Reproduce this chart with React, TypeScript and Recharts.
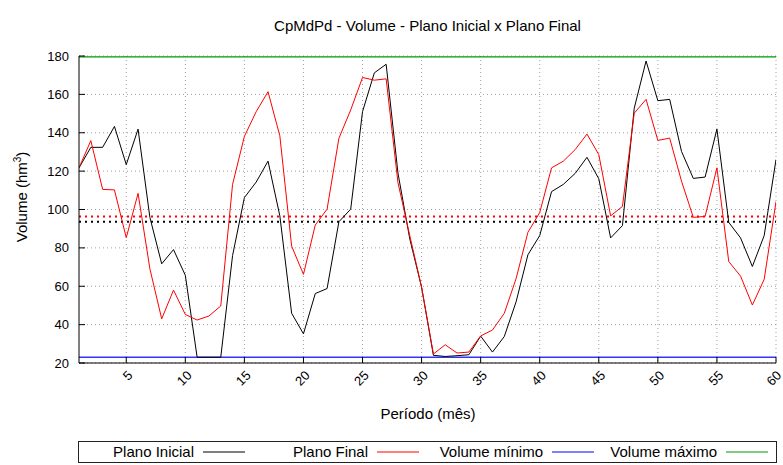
import React from "react";
import {
  LineChart,
  Line,
  XAxis,
  YAxis,
  CartesianGrid,
  ReferenceLine,
} from "recharts";

const periodos = [
  1, 2, 3, 4, 5, 6, 7, 8, 9, 10, 11, 12, 13, 14, 15, 16, 17, 18, 19, 20,
  21, 22, 23, 24, 25, 26, 27, 28, 29, 30, 31, 32, 33, 34, 35, 36, 37, 38, 39, 40,
  41, 42, 43, 44, 45, 46, 47, 48, 49, 50, 51, 52, 53, 54, 55, 56, 57, 58, 59, 60,
];

const planoInicial = [
  121.7, 132.4, 132.4, 143.3, 123.4, 141.9, 95.9, 71.7, 79.1, 65.7,
  23, 23, 23, 76, 106.2, 114.3, 125.2, 96.7, 45.9, 35.2,
  56.2, 58.8, 93.6, 100.2, 151, 171.2, 175.7, 119, 84.7, 59.5,
  24, 23.4, 23.8, 24.3, 34, 25.7, 33.8, 51.9, 76.4, 86.4,
  109.3, 113.1, 118.8, 127.2, 116, 85.2, 91.6, 152.8, 177.4, 156.7,
  157.4, 130.3, 116.2, 116.9, 141.9, 93.3, 85.2, 70.3, 86.4, 126,
];

const planoFinal = [
  121.7, 135.9, 110.5, 110.2, 85.3, 108.4, 69.1, 43, 58, 45.3,
  42.4, 44.5, 49.7, 113.1, 138.1, 151, 161.4, 138.4, 80.9, 66.2,
  91.9, 100.2, 137.1, 151.9, 168.8, 167.4, 168.1, 114, 86.4, 59.5,
  24.7, 29.5, 25.2, 25.7, 34.1, 37.2, 45.9, 64, 88.1, 98.4,
  121.7, 125.2, 131.2, 139.3, 128.6, 96.7, 101.6, 150.2, 157.4, 136,
  137.2, 114.8, 95.9, 96.4, 121.7, 72.9, 65.3, 50.2, 63.6, 104.1,
];

const volumeMinimo = 23;
const volumeMaximo = 179.5;
const mediaInicial = 93.6;
const mediaFinal = 96.4;

const xTicks = [5, 10, 15, 20, 25, 30, 35, 40, 45, 50, 55, 60];
const yTicks = [20, 40, 60, 80, 100, 120, 140, 160, 180];

const legendItems = [
  { name: "Plano Inicial", color: "#000000", end: 194 },
  { name: "Plano Final", color: "#ff0000", end: 368 },
  { name: "Volume mínimo", color: "#0000ff", end: 543 },
  { name: "Volume máximo", color: "#009900", end: 717 },
];

const FONT = "'Liberation Sans', Arial, Helvetica, sans-serif";

const data = periodos.map((p, i) => ({
  periodo: p,
  inicial: planoInicial[i],
  final: planoFinal[i],
}));

const renderXTick = (props: any) => {
  const { x, y, payload } = props;
  const px = x + 4;
  return (
    <text
      x={px}
      y={y}
      transform={`rotate(-45 ${px} ${y})`}
      textAnchor="end"
      dy="0.35em"
      fontSize={13}
      fontFamily={FONT}
      fill="#000"
    >
      {payload.value}
    </text>
  );
};

export default function App() {
  return (
    <div
      style={{
        position: "absolute",
        left: 0,
        top: 0,
        width: 783,
        height: 465,
        background: "#fff",
        fontFamily: FONT,
      }}
    >
      <LineChart
        width={783}
        height={465}
        data={data}
        margin={{ top: 56, right: 7, bottom: 0, left: 0 }}
      >
        <CartesianGrid
          stroke="#a0a0a0"
          strokeDasharray="1 3"
          horizontalValues={yTicks}
          verticalValues={xTicks}
        />
        <XAxis
          dataKey="periodo"
          type="number"
          domain={[1, 60]}
          ticks={xTicks}
          height={102}
          stroke="#000"
          tickSize={-6}
          tickMargin={16}
          tick={renderXTick}
          allowDataOverflow
        />
        <XAxis
          xAxisId="top"
          dataKey="periodo"
          orientation="top"
          type="number"
          domain={[1, 60]}
          ticks={xTicks}
          height={0}
          stroke="#000"
          tickSize={-6}
          tick={false}
          allowDataOverflow
        />
        <YAxis
          type="number"
          domain={[20, 180]}
          ticks={yTicks}
          width={79}
          stroke="#000"
          tickSize={-6}
          tickMargin={16}
          tick={{ fontSize: 13, fill: "#000", fontFamily: FONT }}
          allowDataOverflow
        />
        <YAxis
          yAxisId="right"
          orientation="right"
          type="number"
          domain={[20, 180]}
          ticks={yTicks}
          width={0}
          stroke="#000"
          tickSize={-6}
          tick={false}
          allowDataOverflow
        />
        <ReferenceLine
          y={mediaFinal}
          stroke="#ff0000"
          strokeWidth={2}
          strokeDasharray="2 4"
        />
        <ReferenceLine
          y={mediaInicial}
          stroke="#000000"
          strokeWidth={2}
          strokeDasharray="2 4"
        />
        <ReferenceLine y={volumeMinimo} stroke="#3333ff" strokeWidth={1.5} />
        <ReferenceLine y={volumeMaximo} stroke="#009900" strokeWidth={1.2} />
        <Line
          type="linear"
          dataKey="inicial"
          stroke="#000000"
          strokeWidth={1}
          dot={false}
          isAnimationActive={false}
        />
        <Line
          type="linear"
          dataKey="final"
          stroke="#ff0000"
          strokeWidth={1}
          dot={false}
          isAnimationActive={false}
        />
      </LineChart>
      <svg
        width={783}
        height={465}
        style={{ position: "absolute", left: 0, top: 0, pointerEvents: "none" }}
        fontFamily={FONT}
      >
        <text x={427.5} y={31} textAnchor="middle" fontSize={15} fill="#000">
          CpMdPd - Volume - Plano Inicial x Plano Final
        </text>
        <text x={428} y={419} textAnchor="middle" fontSize={15} fill="#000">
          Período (mês)
        </text>
        <text
          x={27}
          y={197}
          transform="rotate(-90 27 197)"
          textAnchor="middle"
          fontSize={15}
          fill="#000"
        >
          <tspan>Volume (hm</tspan>
          <tspan dy={-6} fontSize={10}>3</tspan>
          <tspan dy={6}>)</tspan>
        </text>
        <rect x={78.5} y={441.5} width={698} height={21} fill="none" stroke="#222" />
        {legendItems.map((item) => (
          <g key={item.name}>
            <text x={item.end} y={457} textAnchor="end" fontSize={15} fill="#000">
              {item.name}
            </text>
            <line
              x1={item.end + 9}
              x2={item.end + 51}
              y1={452}
              y2={452}
              stroke={item.color}
              strokeWidth={1.2}
            />
          </g>
        ))}
      </svg>
    </div>
  );
}
